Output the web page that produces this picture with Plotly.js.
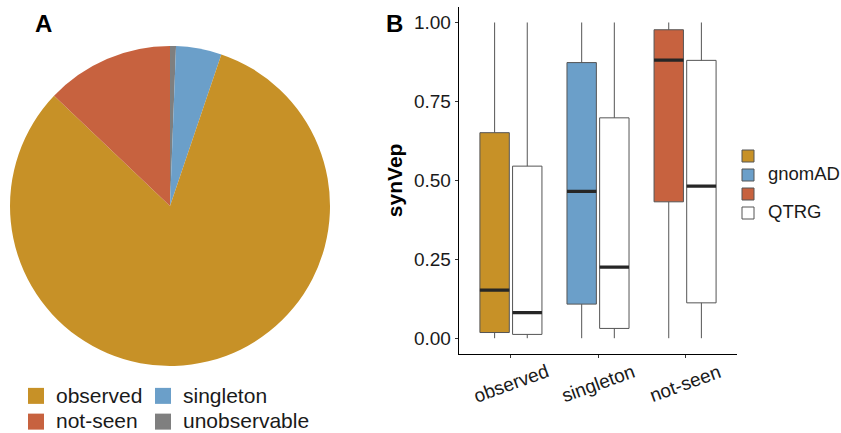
<!DOCTYPE html>
<html>
<head>
<meta charset="utf-8">
<script src="https://cdn.plot.ly/plotly-3.0.1.min.js"></script>
<style>html,body{margin:0;padding:0;background:#fff;}#chart{width:841px;height:433px;}</style>
</head>
<body>
<div id="chart"></div>
<script>
// ---- Panel A: pie ----
const pieLabels = ['observed', 'not-seen', 'singleton', 'unobservable'];
const pieValues = [81.9, 12.9, 4.6, 0.6];
const pieColors = ['#C79127', '#C7623F', '#6B9FC9', '#7F7F7F'];
// clockwise order from 12 o'clock
const pieOrder = ['unobservable', 'singleton', 'observed', 'not-seen'];

// ---- Panel B: boxplots ----
const boxCategories = ['observed', 'singleton', 'not-seen'];
const gnomadColors = ['#C79127', '#6B9FC9', '#C7623F'];
const gnomadLower = [0.0, 0.0, 0.0];
const gnomadQ1 = [0.018, 0.108, 0.432];
const gnomadMedian = [0.152, 0.465, 0.881];
const gnomadQ3 = [0.651, 0.873, 0.977];
const gnomadUpper = [1.0, 1.0, 1.0];
const qtrgLower = [0.0, 0.0, 0.0];
const qtrgQ1 = [0.012, 0.031, 0.112];
const qtrgMedian = [0.081, 0.225, 0.482];
const qtrgQ3 = [0.545, 0.698, 0.880];
const qtrgUpper = [1.0, 1.0, 1.0];
const boxLegendNames = [' ', 'gnomAD', ' ', 'QTRG'];
const yTicks = [0, 0.25, 0.5, 0.75, 1.0];

const FONT = 'Liberation Sans, Arial, sans-serif';
const traces = [];

const idx = pieOrder.map(l => pieLabels.indexOf(l));
traces.push({
  type: 'pie',
  labels: idx.map(i => pieLabels[i]),
  values: idx.map(i => pieValues[i]),
  marker: {colors: idx.map(i => pieColors[i]), line: {width: 0}},
  sort: false,
  direction: 'clockwise',
  rotation: 0,
  textinfo: 'none',
  hoverinfo: 'none',
  showlegend: false,
  domain: {x: [10/841, 330/841], y: [(433-366)/433, (433-46)/433]}
});

const boxLine = '#555555';
const legendName = s => '<span style="font-size:18.5px">' + s + '</span>';
// gnomAD boxes (one trace per colour)
boxCategories.forEach((c, i) => {
  traces.push({
    type: 'box', x: [c],
    q1: [gnomadQ1[i]], median: [gnomadMedian[i]], q3: [gnomadQ3[i]],
    lowerfence: [gnomadLower[i]], upperfence: [gnomadUpper[i]],
    fillcolor: gnomadColors[i], line: {color: boxLine, width: 1},
    whiskerwidth: 0, offsetgroup: 'gnomAD', alignmentgroup: 'a',
    name: legendName(boxLegendNames[i]),
    showlegend: true, legend: 'legend', hoverinfo: 'none'
  });
});
traces.push({
  type: 'box', x: boxCategories,
  q1: qtrgQ1, median: qtrgMedian, q3: qtrgQ3,
  lowerfence: qtrgLower, upperfence: qtrgUpper,
  fillcolor: '#FFFFFF', line: {color: boxLine, width: 1},
  whiskerwidth: 0, offsetgroup: 'QTRG', alignmentgroup: 'a',
  name: legendName(boxLegendNames[3]), showlegend: true, legend: 'legend', hoverinfo: 'none'
});
// thick median bars
traces.push({
  type: 'box', x: boxCategories,
  q1: gnomadMedian, median: gnomadMedian, q3: gnomadMedian,
  lowerfence: gnomadMedian, upperfence: gnomadMedian,
  fillcolor: 'rgba(0,0,0,0)', line: {color: '#262626', width: 3.2},
  whiskerwidth: 0, offsetgroup: 'gnomAD', alignmentgroup: 'a',
  showlegend: false, hoverinfo: 'none'
});
traces.push({
  type: 'box', x: boxCategories,
  q1: qtrgMedian, median: qtrgMedian, q3: qtrgMedian,
  lowerfence: qtrgMedian, upperfence: qtrgMedian,
  fillcolor: 'rgba(0,0,0,0)', line: {color: '#262626', width: 3.2},
  whiskerwidth: 0, offsetgroup: 'QTRG', alignmentgroup: 'a',
  showlegend: false, hoverinfo: 'none'
});
// pie legend entries (two columns)
const pieLegendCols = [['observed', 'not-seen'], ['singleton', 'unobservable']];
pieLegendCols.forEach((col, ci) => {
  col.forEach(lab => {
    traces.push({
      type: 'scatter', mode: 'markers', x: [null], y: [null],
      marker: {symbol: 'square', size: 16, color: pieColors[pieLabels.indexOf(lab)]},
      name: '<span style="font-size:21px">' + lab + '</span>',
      legend: ci === 0 ? 'legend2' : 'legend3', showlegend: true, hoverinfo: 'none'
    });
  });
});

const xLabelAnnotations = boxCategories.map(c => ({
  x: c, xref: 'x', y: (433-383)/433, yref: 'paper', text: c, showarrow: false,
  textangle: -20, xanchor: 'center', yanchor: 'middle',
  font: {family: FONT, size: 19, color: '#1a1a1a'}
}));

const layout = {
  width: 841, height: 433,
  margin: {l: 0, r: 0, t: 0, b: 0, autoexpand: false},
  paper_bgcolor: '#fff', plot_bgcolor: '#fff',
  font: {family: FONT, color: '#1a1a1a'},
  boxmode: 'group', boxgap: 0.25, boxgroupgap: 0.1,
  xaxis: {
    domain: [458.7/841, 737.3/841], type: 'category',
    categoryorder: 'array', categoryarray: boxCategories,
    range: [-0.6, 2.6], showgrid: false, zeroline: false,
    showline: true, linecolor: '#000', linewidth: 1,
    ticks: 'outside', ticklen: 3, tickcolor: '#333', showticklabels: false
  },
  yaxis: {
    domain: [(433-354)/433, (433-6.7)/433],
    range: [-0.05, 1.05], tickvals: yTicks, tickformat: '.2f',
    showgrid: false, zeroline: false, showline: true, linecolor: '#000', linewidth: 1,
    ticks: 'outside', ticklen: 3, tickcolor: '#333',
    tickfont: {family: FONT, size: 19, color: '#1a1a1a'},
    title: {text: '<b>synVep</b>', font: {family: FONT, size: 21, color: '#000'}, standoff: 5}
  },
  legend: {
    x: 728/841, xanchor: 'left', y: (433-141.5)/433, yanchor: 'top',
    bgcolor: 'rgba(0,0,0,0)', borderwidth: 0, tracegroupgap: 0,
    font: {family: FONT, size: 12.3, color: '#1a1a1a'}
  },
  legend2: {
    x: 16/841, xanchor: 'left', y: (433-378)/433, yanchor: 'top',
    bgcolor: 'rgba(0,0,0,0)', borderwidth: 0,
    font: {family: FONT, size: 17.5, color: '#1a1a1a'}
  },
  legend3: {
    x: 143/841, xanchor: 'left', y: (433-378)/433, yanchor: 'top',
    bgcolor: 'rgba(0,0,0,0)', borderwidth: 0,
    font: {family: FONT, size: 17.5, color: '#1a1a1a'}
  },
  annotations: [
    {x: 43/841, y: (433-24)/433, xref: 'paper', yref: 'paper', text: '<b>A</b>', showarrow: false,
     xanchor: 'center', yanchor: 'middle', font: {family: FONT, size: 24, color: '#000'}},
    {x: 394/841, y: (433-24)/433, xref: 'paper', yref: 'paper', text: '<b>B</b>', showarrow: false,
     xanchor: 'center', yanchor: 'middle', font: {family: FONT, size: 24, color: '#000'}}
  ].concat(xLabelAnnotations)
};

Plotly.newPlot('chart', traces, layout, {staticPlot: true, displayModeBar: false});
</script>
</body>
</html>
